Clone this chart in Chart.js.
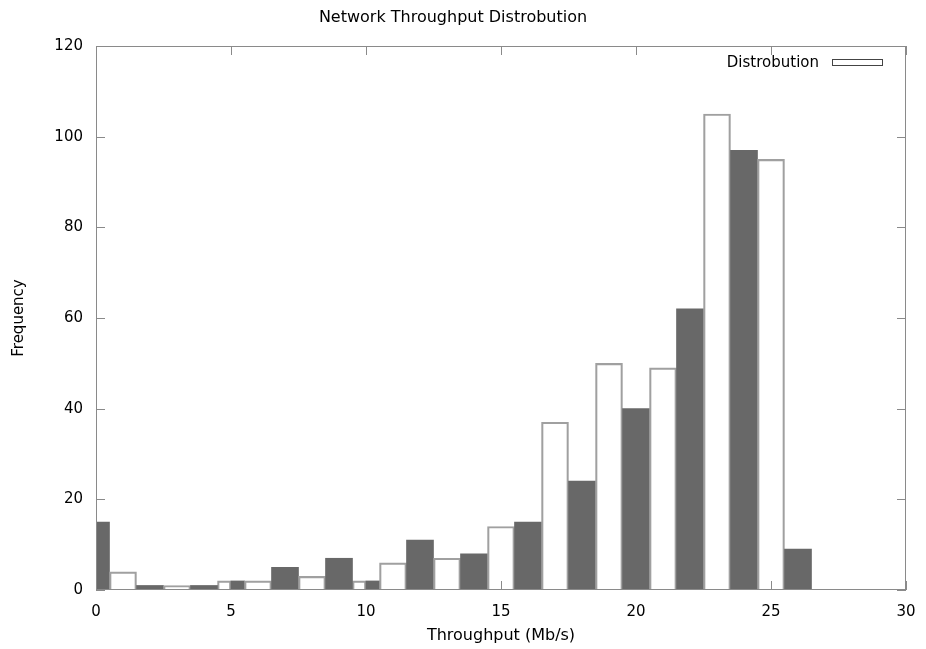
<!DOCTYPE html>
<html>
<head>
<meta charset="utf-8">
<title>Network Throughput Distrobution</title>
<script src="https://cdn.jsdelivr.net/npm/chart.js@4.4.0/dist/chart.umd.min.js"></script>
<style>
  html, body { margin: 0; padding: 0; background: #fff; }
  #wrap { width: 926px; height: 649px; }
</style>
</head>
<body>
<div id="wrap"><canvas id="chart"></canvas></div>
<script>
// Histogram bins (Mb/s) - the two split bins around 5 and 10 are drawn as half bars
const binCenters = [0, 1, 2, 3, 4, 4.75, 5.25, 6, 7, 8, 9, 9.75, 10.25,
                    11, 12, 13, 14, 15, 16, 17, 18, 19, 20, 21, 22, 23, 24, 25, 26];
const frequency  = [15, 4, 1, 1, 1, 2, 2, 2, 5, 3, 7, 2, 2,
                    6, 11, 7, 8, 14, 15, 37, 24, 50, 40, 49, 62, 105, 97, 95, 9];
const xTicks = [0, 5, 10, 15, 20, 25, 30];
const yTicks = [0, 20, 40, 60, 80, 100, 120];

const DARK = '#686868';
const EDGE = '#a0a0a0';
const AXIS = '#8a8a8a';
const TICK_LEN = 9;

// split into full width and half width bars, colours alternate along the sequence
const fullBars = [];
const halfBars = [];
binCenters.forEach((c, i) => {
    const pt = { x: c, y: frequency[i], dark: i % 2 === 0 };
    (Number.isInteger(c) ? fullBars : halfBars).push(pt);
});

Chart.defaults.font.family = "'DejaVu Sans', sans-serif";
Chart.defaults.color = '#000';

const barStyle = {
    backgroundColor: ctx => ctx.raw && ctx.raw.dark ? DARK : 'rgba(0,0,0,0)',
    borderColor: ctx => ctx.raw && ctx.raw.dark ? DARK : EDGE,
    borderWidth: ctx => ctx.raw && ctx.raw.dark ? 0 : 1.5,
    barPercentage: 1,
    categoryPercentage: 1,
    grouped: false,
    clip: 0
};

// gnuplot style frame: inward ticks on all four sides + hand drawn key
const gnuplotFrame = {
    id: 'gnuplotFrame',
    beforeDatasetsDraw(chart) {
        const { ctx, chartArea: a, scales: { x, y } } = chart;
        ctx.save();
        ctx.strokeStyle = AXIS;
        ctx.lineWidth = 1;
        ctx.beginPath();
        x.ticks.forEach(t => {
            const px = Math.round(x.getPixelForValue(t.value)) + 0.5;
            ctx.moveTo(px, a.bottom);
            ctx.lineTo(px, a.bottom - TICK_LEN);
            ctx.moveTo(px, a.top);
            ctx.lineTo(px, a.top + TICK_LEN);
        });
        y.ticks.forEach(t => {
            const py = Math.round(y.getPixelForValue(t.value)) + 0.5;
            ctx.moveTo(a.left, py);
            ctx.lineTo(a.left + TICK_LEN, py);
            ctx.moveTo(a.right, py);
            ctx.lineTo(a.right - TICK_LEN, py);
        });
        ctx.stroke();
        ctx.restore();
    },
    afterDatasetsDraw(chart) {
        const { ctx, chartArea: a } = chart;
        ctx.save();
        ctx.strokeStyle = AXIS;
        ctx.lineWidth = 1;
        ctx.strokeRect(Math.round(a.left) + 0.5, Math.round(a.top) + 0.5,
                       Math.round(a.right - a.left) - 1, Math.round(a.bottom - a.top) - 1);

        // key
        ctx.font = "15px 'DejaVu Sans', sans-serif";
        ctx.fillStyle = '#000';
        ctx.textAlign = 'right';
        ctx.textBaseline = 'middle';
        ctx.fillText(chart.data.datasets[0].label, a.right - 87, a.top + 17);
        ctx.fillStyle = '#fff';
        ctx.strokeStyle = '#444';
        ctx.fillRect(a.right - 74, a.top + 13, 51, 7);
        ctx.strokeRect(a.right - 73.5, a.top + 13.5, 50, 6);
        ctx.restore();
    }
};

const ctx = document.getElementById('chart').getContext('2d');
new Chart(ctx, {
    type: 'bar',
    data: {
        datasets: [{
            label: 'Distrobution',
            data: fullBars,
            xAxisID: 'x',
            ...barStyle
        }, {
            label: 'Distrobution',
            data: halfBars,
            xAxisID: 'x2',
            ...barStyle
        }]
    },
    options: {
        responsive: true,
        maintainAspectRatio: false,
        animation: false,
        layout: { padding: { left: 0, right: 20, top: 0, bottom: 0 } },
        plugins: {
            legend: { display: false },
            tooltip: { enabled: false },
            title: {
                display: true,
                text: 'Network Throughput Distrobution',
                font: { size: 16, weight: 'normal' },
                color: '#000',
                padding: { top: 8, bottom: 18.8 }
            }
        },
        scales: {
            x: {
                type: 'linear',
                min: 0,
                max: 30,
                offset: false,
                afterBuildTicks: s => { s.ticks = xTicks.map(v => ({ value: v })); },
                afterFit: s => { s.height = 59; },
                grid: { display: false, offset: false },
                border: { display: false },
                ticks: { font: { size: 15 }, padding: 5, color: '#000' },
                title: {
                    display: true,
                    text: 'Throughput (Mb/s)',
                    font: { size: 16 },
                    color: '#000',
                    padding: { top: 0, bottom: 4 }
                }
            },
            x2: {
                type: 'linear',
                display: false,
                min: 0,
                max: 30,
                offset: false,
                grid: { offset: false }
            },
            y: {
                min: 0,
                max: 120,
                afterBuildTicks: s => { s.ticks = yTicks.map(v => ({ value: v })); },
                afterFit: s => { s.width = 96; },
                grid: { display: false },
                border: { display: false },
                ticks: { font: { size: 15 }, padding: 5, color: '#000' },
                title: {
                    display: true,
                    text: 'Frequency',
                    font: { size: 15 },
                    color: '#000',
                    padding: { top: 10, bottom: 0 }
                }
            }
        }
    },
    plugins: [gnuplotFrame]
});
</script>
</body>
</html>
